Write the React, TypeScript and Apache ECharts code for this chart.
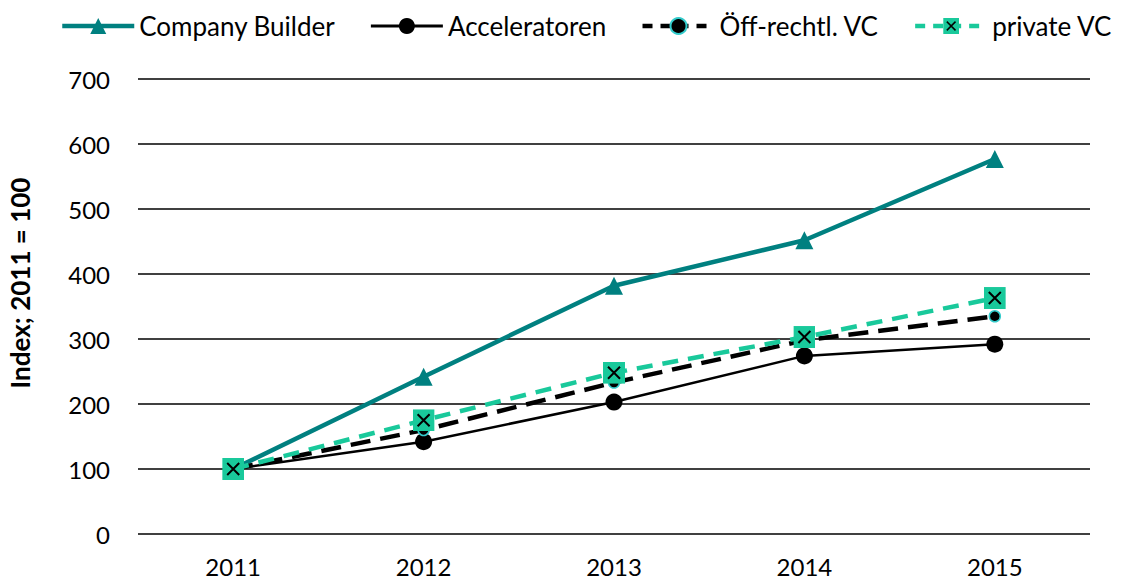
import React, { useEffect, useRef } from "react";
import * as echarts from "echarts";

const years = ["2011", "2012", "2013", "2014", "2015"];
const companyBuilder = [100, 242, 382, 452, 577];
const acceleratoren = [100, 142, 203, 274, 292];
const oeffVC = [100, 160, 233, 298, 335];
const privateVC = [100, 175, 248, 303, 363];
const yTicks = { min: 0, max: 700, interval: 100 };
const yAxisTitle = "Index; 2011 = 100";

const FONT = "Lato, 'Open Sans', sans-serif";
const TEAL = "#008080";
const GREEN = "#19C99B";

const privateSymbolSvg =
  "data:image/svg+xml;utf8," +
  encodeURIComponent(
    '<svg xmlns="http://www.w3.org/2000/svg" width="22" height="22" viewBox="0 0 22 22">' +
      '<rect x="0" y="0" width="22" height="22" fill="' + GREEN + '"/>' +
      '<path d="M5 5 L17 17 M17 5 L5 17" stroke="#000" stroke-width="2"/>' +
      "</svg>"
  );

export default function App() {
  const ref = useRef<HTMLDivElement>(null);
  useEffect(() => {
    const chart = echarts.init(ref.current!, null, { renderer: "svg" });
    chart.setOption({
      animation: false,
      textStyle: { fontFamily: FONT },
      legend: {
        top: 13,
        left: 60,
        right: 0,
        padding: 0,
        itemWidth: 72,
        itemHeight: 20,
        itemGap: 34,
        textStyle: { fontSize: 26, color: "#000", fontFamily: FONT },
        data: [
          { name: "Company Builder", lineStyle: { width: 4.5, color: TEAL } },
          { name: "Acceleratoren", lineStyle: { width: 3, color: "#000" } },
          { name: "Öff-rechtl. VC", lineStyle: { width: 4.5, color: "#000", type: [10, 8] } },
          { name: "private VC", lineStyle: { width: 4.5, color: GREEN, type: [10, 8] } },
        ],
      },
      grid: { left: 138, right: 31, top: 79, bottom: 51 },
      xAxis: {
        type: "category",
        data: years,
        boundaryGap: true,
        axisLine: { show: false },
        axisTick: { show: false },
        axisLabel: { fontSize: 24, color: "#000", margin: 20, fontFamily: FONT },
      },
      yAxis: {
        type: "value",
        min: yTicks.min,
        max: yTicks.max,
        interval: yTicks.interval,
        axisLine: { show: false },
        axisTick: { show: false },
        axisLabel: { fontSize: 24, color: "#000", margin: 28, fontFamily: FONT },
        splitLine: { lineStyle: { color: "#000", width: 1.5 } },
      },
      graphic: [
        {
          type: "text",
          x: 20,
          y: 283,
          rotation: Math.PI / 2,
          style: {
            text: yAxisTitle,
            fontSize: 26,
            fontWeight: "bold",
            fontFamily: FONT,
            fill: "#000",
            align: "center",
            verticalAlign: "middle",
          },
        },
      ],
      series: [
        {
          name: "Company Builder",
          type: "line",
          data: companyBuilder,
          symbol: "triangle",
          symbolSize: 18,
          itemStyle: { color: TEAL },
          lineStyle: { color: TEAL, width: 4.5 },
          z: 2,
        },
        {
          name: "Acceleratoren",
          type: "line",
          data: acceleratoren,
          symbol: "circle",
          symbolSize: 17,
          itemStyle: { color: "#000" },
          lineStyle: { color: "#000", width: 2.5 },
          z: 3,
        },
        {
          name: "Öff-rechtl. VC",
          type: "line",
          data: oeffVC,
          symbol: "circle",
          symbolSize: 11,
          itemStyle: { color: "#000", borderColor: "#33CCCC", borderWidth: 1.5 },
          lineStyle: { color: "#000", width: 4.5, type: [20, 10] },
          z: 4,
        },
        {
          name: "private VC",
          type: "line",
          data: privateVC,
          symbol: "image://" + privateSymbolSvg,
          symbolSize: 22,
          itemStyle: { color: GREEN },
          lineStyle: { color: GREEN, width: 4.5, type: [16, 10] },
          z: 5,
        },
      ],
    });
    return () => chart.dispose();
  }, []);
  return (
    <div
      ref={ref}
      style={{ position: "fixed", left: 0, top: 0, width: 1121, height: 585, background: "#fff" }}
    />
  );
}
